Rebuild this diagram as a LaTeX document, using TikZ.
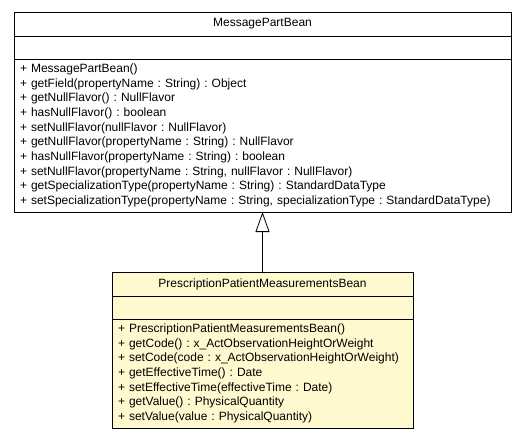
\documentclass[tikz,border=0pt]{standalone}
\usepackage{fontspec}
\setmainfont{Liberation Sans}
\usetikzlibrary{arrows.meta,positioning}
\definecolor{pale}{HTML}{FFF9CF}

\begin{document}
\begin{tikzpicture}[
 x=1pt,y=1pt,
 node distance=0pt,
 umlbox/.style={draw=black,line width=0.8pt,inner sep=0pt,outer sep=0pt,font=\fontsize{12}{14.67}\selectfont\frenchspacing},
 head/.style={umlbox,minimum height=24pt},
 attrs/.style={umlbox,minimum height=23pt},
 ops/.style={umlbox,align=left,inner xsep=6pt},
 inherit/.style={-{Triangle[open,length=20pt,width=14pt]},line width=0.8pt}
]
\useasboundingbox (0,0) rectangle (525,-440);
% superclass
\node[head,anchor=north west,minimum width=497pt] (mpb) at (14,-12) {MessagePartBean};
\node[attrs,minimum width=497pt,below=of mpb] (mpbattr) {};
\node[ops,text width=485pt,minimum height=153pt,below=of mpbattr] (mpbops) {+ MessagePartBean()\\
+ getField(propertyName : String) : Object\\
+ getNullFlavor() : NullFlavor\\
+ hasNullFlavor() : boolean\\
+ setNullFlavor(nullFlavor : NullFlavor)\\
+ getNullFlavor(propertyName : String) : NullFlavor\\
+ hasNullFlavor(propertyName : String) : boolean\\
+ setNullFlavor(propertyName : String, nullFlavor : NullFlavor)\\
+ getSpecializationType(propertyName : String) : StandardDataType\\
+ setSpecializationType(propertyName : String, specializationType : StandardDataType)};
% subclass
\node[head,fill=pale,minimum width=301pt,below=60pt of mpbops] (ppmb) {PrescriptionPatientMeasurementsBean};
\node[attrs,fill=pale,minimum width=301pt,below=of ppmb] (ppmbattr) {};
\node[ops,fill=pale,text width=289pt,minimum height=109pt,below=of ppmbattr] (ppmbops) {+ PrescriptionPatientMeasurementsBean()\\
+ getCode() : x\_ActObservationHeightOrWeight\\
+ setCode(code : x\_ActObservationHeightOrWeight)\\
+ getEffectiveTime() : Date\\
+ setEffectiveTime(effectiveTime : Date)\\
+ getValue() : PhysicalQuantity\\
+ setValue(value : PhysicalQuantity)};
\draw[inherit] (ppmb) -- (mpbops);
\end{tikzpicture}
\end{document}
